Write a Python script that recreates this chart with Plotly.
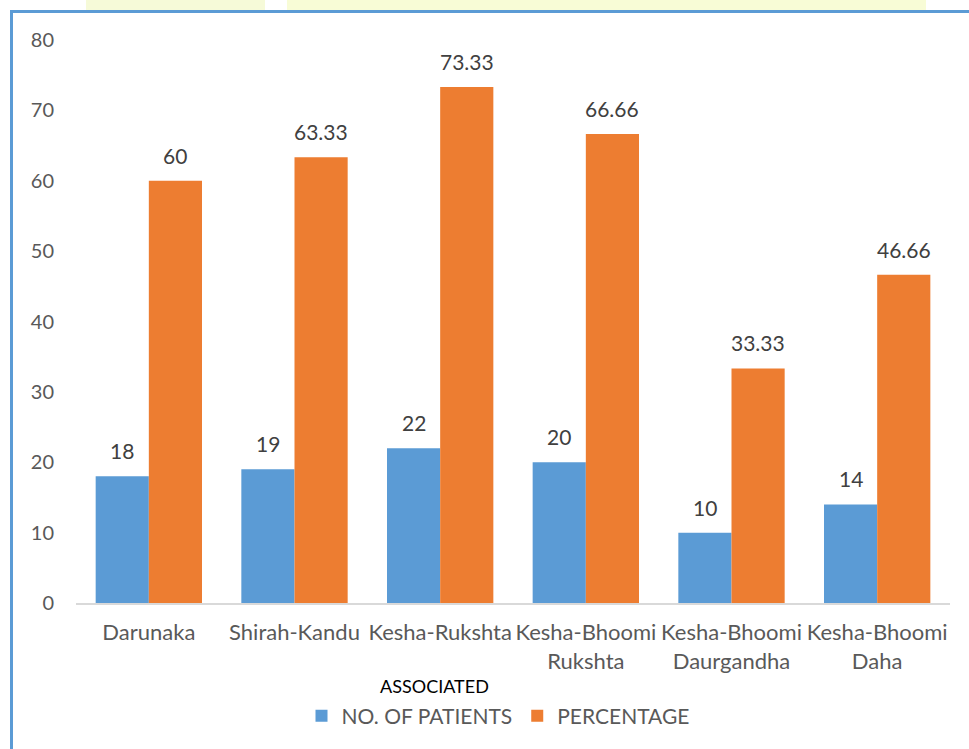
import plotly.graph_objects as go

categories = ["Darunaka", "Shirah-Kandu", "Kesha-Rukshta", "Kesha-Bhoomi<br>Rukshta",
              "Kesha-Bhoomi<br>Daurgandha", "Kesha-Bhoomi<br>Daha"]
patients = [18, 19, 22, 20, 10, 14]
percentage = [60, 63.33, 73.33, 66.66, 33.33, 46.66]
patient_labels = ["18", "19", "22", "20", "10", "14"]
percentage_labels = ["60", "63.33", "73.33", "66.66", "33.33", "46.66"]
y_ticks = [0, 10, 20, 30, 40, 50, 60, 70, 80]

BLUE = "#5B9BD5"
ORANGE = "#ED7D31"
FONT = "Lato, Carlito, Calibri, sans-serif"
W, H = 969, 749
L, R, T, B = 76, 19, 40, 146
PW, PH = W - L - R, H - T - B
BARGAP = 0.27

def px_x(p):
    return (p - L) / PW

def px_y(p):
    return (H - B - p) / PH

fig = go.Figure()
fig.add_trace(go.Bar(x=list(range(len(categories))), y=patients, name="NO. OF PATIENTS",
                     marker=dict(color=BLUE, line=dict(width=0))))
fig.add_trace(go.Bar(x=list(range(len(categories))), y=percentage, name="PERCENTAGE",
                     marker=dict(color=ORANGE, line=dict(width=0))))

half = (1 - BARGAP) / 4
annotations = []
for i in range(len(categories)):
    for val, lab, off in ((patients[i], patient_labels[i], -half),
                          (percentage[i], percentage_labels[i], half)):
        annotations.append(dict(x=i + off, y=val, xref="x", yref="y", text=lab,
                                showarrow=False, yanchor="bottom", yshift=11,
                                font=dict(family=FONT, size=21, color="#404040")))
annotations.append(dict(x=px_x(434), y=px_y(686), xref="paper", yref="paper",
                        text="ASSOCIATED", showarrow=False, xanchor="center", yanchor="middle",
                        font=dict(family=FONT, size=18, color="#000000")))

shapes = [
    dict(type="rect", xref="paper", yref="paper", x0=px_x(86), x1=px_x(265), y0=px_y(10), y1=px_y(0),
         fillcolor="#F6FAD8", line=dict(width=0), layer="below"),
    dict(type="rect", xref="paper", yref="paper", x0=px_x(287), x1=px_x(926), y0=px_y(10), y1=px_y(0),
         fillcolor="#F8FCD6", line=dict(width=0), layer="below"),
    dict(type="line", xref="paper", yref="paper", x0=px_x(10), x1=px_x(969), y0=px_y(11.5), y1=px_y(11.5),
         line=dict(color=BLUE, width=3)),
    dict(type="line", xref="paper", yref="paper", x0=px_x(11.5), x1=px_x(11.5), y0=px_y(10), y1=px_y(749),
         line=dict(color=BLUE, width=3)),
]

fig.update_layout(
    width=W, height=H,
    margin=dict(l=L, r=R, t=T, b=B),
    paper_bgcolor="white", plot_bgcolor="white",
    barmode="group", bargap=BARGAP, bargroupgap=0,
    font=dict(family=FONT, size=20, color="#595959"),
    xaxis=dict(tickmode="array", tickvals=list(range(len(categories))), ticktext=categories,
               range=[-0.5, len(categories) - 0.5],
               showline=True, linecolor="#D9D9D9", linewidth=1.5, showgrid=False,
               ticks="", ticklabelstandoff=9, tickfont=dict(family=FONT, size=22, color="#595959")),
    yaxis=dict(range=[0, 80], tickvals=y_ticks, showgrid=False, zeroline=False, showline=False,
               ticks="", ticklabelstandoff=21, tickfont=dict(family=FONT, size=20, color="#595959")),
    legend=dict(orientation="h", x=px_x(498), xanchor="center", y=px_y(716), yanchor="middle",
                font=dict(family=FONT, size=21, color="#595959"), itemwidth=30,
                traceorder="normal"),
    annotations=annotations,
    shapes=shapes,
)

fig.write_html("out.html")
